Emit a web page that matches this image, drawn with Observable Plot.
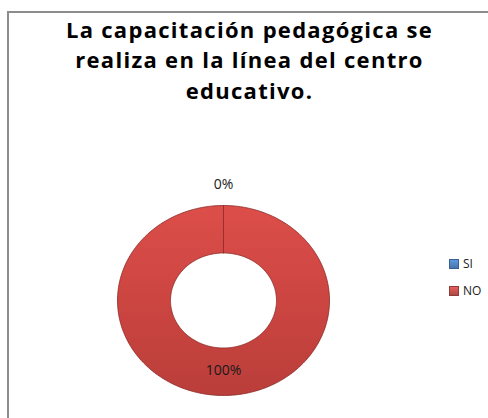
<!DOCTYPE html>
<html>
<head>
<meta charset="utf-8">
<script src="https://cdn.jsdelivr.net/npm/d3@7"></script>
<script src="https://cdn.jsdelivr.net/npm/@observablehq/plot@0.6"></script>
<style>
  html, body { margin: 0; padding: 0; background: #fff; }
  #wrap { position: relative; width: 488px; height: 418px; overflow: hidden; }
  #border { position: absolute; left: 7px; top: 11px; right: -10px; bottom: -10px;
            border-left: 2px solid #8c8c8c; border-top: 2px solid #8c8c8c; pointer-events: none; }
  #legend { position: absolute; left: 449px; top: 250px; font-family: "Open Sans", sans-serif;
            font-size: 12px; color: #222; }
  .item { display: flex; align-items: center; height: 27px; }
  .sw { width: 8px; height: 8px; margin-right: 4px; }
  .title text { letter-spacing: 1.3px; }
</style>
</head>
<body>
<div id="wrap">
  <div id="chart"></div>
  <div id="legend"></div>
  <div id="border"></div>
</div>
<script>
const titleLines = ["La capacitación pedagógica se", "realiza en la línea del centro", "educativo."];
const categories = ["SI", "NO"];
const values = [0, 100];
const percentLabels = ["0%", "100%"];
const colors = ["#4F81BD", "#C0504D"];

const innerRatio = 0.5;
const pie = d3.pie().sort(null).startAngle(0).endAngle(2 * Math.PI)(values);

// ring polygons built from the pie angles
const ringPts = [];
pie.forEach((p, i) => {
  const n = Math.max(2, Math.ceil((p.endAngle - p.startAngle) / 0.02));
  for (let k = 0; k <= n; k++) {
    const a = p.startAngle + (p.endAngle - p.startAngle) * k / n;
    ringPts.push({cat: categories[i], x: Math.sin(a), y: Math.cos(a)});
  }
  for (let k = n; k >= 0; k--) {
    const a = p.startAngle + (p.endAngle - p.startAngle) * k / n;
    ringPts.push({cat: categories[i], x: innerRatio * Math.sin(a), y: innerRatio * Math.cos(a)});
  }
});

const labels = pie.map((p, i) => {
  const mid = (p.startAngle + p.endAngle) / 2;
  const r = values[i] === 0 ? 1.22 : 0.74;
  return {text: percentLabels[i], x: r * Math.sin(mid), y: r * Math.cos(mid)};
});

const chart = Plot.plot({
  width: 488,
  height: 418,
  margin: 0,
  x: {domain: [-1, 1], range: [117, 329], axis: null},
  y: {domain: [-1, 1], range: [395, 205], axis: null},
  style: {background: "transparent"},
  marks: [
    Plot.line(ringPts, {
      x: "x", y: "y", z: "cat",
      fill: d => d.cat === "NO" ? "url(#redGrad)" : "url(#blueGrad)",
      stroke: d => d.cat === "NO" ? "#8a2926" : "#2c4d75",
      strokeWidth: 1, strokeOpacity: 0.8, curve: "linear"
    }),
    Plot.text(labels, {
      x: "x", y: "y", text: "text",
      fontSize: 14, fill: "#1a1a1a", fontFamily: "Open Sans, sans-serif"
    }),
    Plot.text([titleLines.join("\n")], {
      frameAnchor: "top", dx: 5, dy: 16, lineAnchor: "top", lineHeight: 1.38,
      fontSize: 22, fontWeight: "bold", fill: "#000", fontFamily: "Open Sans, sans-serif",
      className: "title"
    })
  ]
});

// gradients for a slightly shaded look
const ns = "http://www.w3.org/2000/svg";
const defs = document.createElementNS(ns, "defs");
defs.innerHTML = `
  <linearGradient id="redGrad" x1="0" y1="0" x2="0" y2="1">
    <stop offset="0" stop-color="#DC4E4A"/>
    <stop offset="0.5" stop-color="#CC4541"/>
    <stop offset="1" stop-color="#BA3E3A"/>
  </linearGradient>
  <linearGradient id="blueGrad" x1="0" y1="0" x2="0" y2="1">
    <stop offset="0" stop-color="#5A8FD0"/>
    <stop offset="1" stop-color="#3F6EA8"/>
  </linearGradient>`;
chart.insertBefore(defs, chart.firstChild);
document.getElementById("chart").appendChild(chart);

const leg = d3.select("#legend");
categories.forEach((c, i) => {
  const it = leg.append("div").attr("class", "item");
  it.append("div").attr("class", "sw")
    .style("background", `linear-gradient(${d3.color(colors[i]).brighter(0.5)}, ${d3.color(colors[i]).darker(0.3)})`)
    .style("border", `1px solid ${d3.color(colors[i]).darker(0.8)}`);
  it.append("span").text(c);
});
</script>
</body>
</html>
